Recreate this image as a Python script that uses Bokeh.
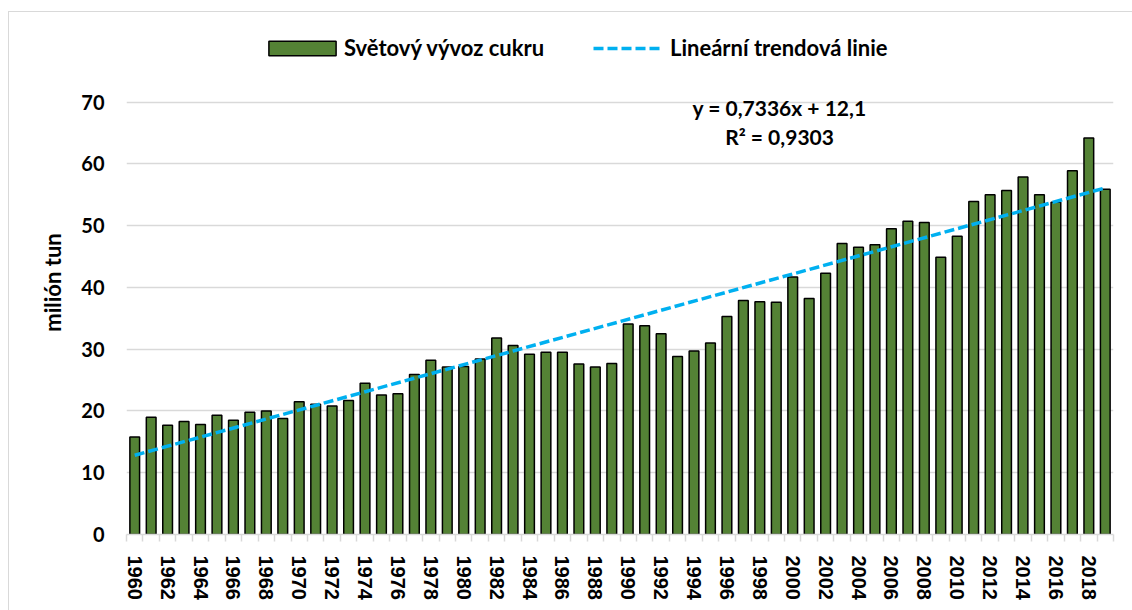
from bokeh.plotting import figure
from bokeh.models import Range1d, FixedTicker, Legend, LegendItem, Label, InlineStyleSheet
from bokeh.embed import file_html
from bokeh.resources import INLINE

# ---- data ----
years = list(range(1960, 2020))
export = [15.8, 19.0, 17.7, 18.3, 17.8, 19.3, 18.5, 19.8, 20.0, 18.8,
          21.5, 21.1, 20.8, 21.7, 24.5, 22.6, 22.8, 25.9, 28.2, 27.1,
          27.2, 28.4, 31.8, 30.6, 29.2, 29.5, 29.5, 27.6, 27.1, 27.7,
          34.1, 33.8, 32.5, 28.8, 29.7, 31.0, 35.3, 37.9, 37.7, 37.6,
          41.7, 38.2, 42.3, 47.1, 46.5, 46.9, 49.5, 50.7, 50.5, 44.9,
          48.3, 53.9, 55.0, 55.7, 57.9, 55.0, 53.8, 58.9, 64.2, 55.9]
trend_slope = 0.7336
trend_intercept = 12.1
y_ticks = [0, 10, 20, 30, 40, 50, 60, 70]
x_label_years = list(range(1960, 2020, 2))
series_label = "Světový vývoz cukru"
trend_label = "Lineární trendová linie"
eq_text = "y = 0,7336x + 12,1"
r2_text = "R² = 0,9303"
y_title = "milión tun"

# trend line endpoints (x index 1..60 as in Excel)
trend_x = [years[0], years[-1]]
trend_y = [trend_intercept + trend_slope * 1, trend_intercept + trend_slope * len(years)]

FONT = "Lato"

p = figure(width=1132, height=610, output_backend="svg", toolbar_location=None,
           x_range=Range1d(1959.5, 2019.5), y_range=Range1d(0, 81.6),
           min_border_left=126, min_border_right=19, min_border_top=30, min_border_bottom=76,
           background_fill_color="white", border_fill_color="white", outline_line_color=None)

bars = p.vbar(x=years, top=export, width=0.59, fill_color="#548235",
              line_color="black", line_width=1.5)
trend = p.line(x=trend_x, y=trend_y, line_color="#00B0F0", line_width=3.5, line_dash="10 4")

# grid
p.xgrid.visible = False
p.ygrid.ticker = FixedTicker(ticks=y_ticks)
p.ygrid.grid_line_color = "#D9D9D9"
p.ygrid.grid_line_width = 1.5

# y axis
p.yaxis.ticker = FixedTicker(ticks=y_ticks)
p.yaxis.axis_line_color = None
p.yaxis.major_tick_line_color = None
p.yaxis.minor_tick_line_color = None
p.yaxis.major_tick_in = 0
p.yaxis.major_tick_out = 0
p.yaxis.major_label_standoff = 22
p.yaxis.major_label_text_font = FONT
p.yaxis.major_label_text_font_style = "bold"
p.yaxis.major_label_text_font_size = "20px"
p.yaxis.major_label_text_color = "black"
p.yaxis.axis_label = y_title
p.yaxis.axis_label_text_font = FONT
p.yaxis.axis_label_text_font_style = "bold"
p.yaxis.axis_label_text_font_size = "22px"
p.yaxis.axis_label_text_color = "black"
p.yaxis.axis_label_standoff = 12

# x axis
boundaries = [y - 0.5 for y in years] + [years[-1] + 0.5]
p.xaxis.ticker = FixedTicker(ticks=x_label_years, minor_ticks=boundaries)
p.xaxis.axis_line_color = "#D9D9D9"
p.xaxis.axis_line_width = 1.5
p.xaxis.major_tick_line_color = None
p.xaxis.major_tick_in = 0
p.xaxis.major_tick_out = 0
p.xaxis.minor_tick_line_color = "#D9D9D9"
p.xaxis.minor_tick_line_width = 1.5
p.xaxis.minor_tick_in = 0
p.xaxis.minor_tick_out = 7
p.xaxis.major_label_orientation = "vertical"
p.xaxis.major_label_standoff = 14
p.xaxis.major_label_text_font = "Liberation Sans"
p.xaxis.major_label_text_font_style = "bold"
p.xaxis.major_label_text_font_size = "20px"
p.xaxis.major_label_text_color = "black"

# legends (two, so each key can have its own size)
common = dict(orientation="horizontal", label_height=22, padding=0, margin=0,
              border_line_color=None, background_fill_alpha=0,
              label_text_font=FONT, label_text_font_style="bold",
              label_text_font_size="22px", label_text_color="black")
legend_bars = Legend(items=[LegendItem(label=series_label, renderers=[bars])],
                     location=(134, 473), glyph_width=84, glyph_height=18,
                     label_standoff=0, **common)
legend_trend = Legend(items=[LegendItem(label=trend_label, renderers=[trend])],
                      location=(467, 473), glyph_width=70, glyph_height=14,
                      label_standoff=7, **common)
p.add_layout(legend_bars)
p.add_layout(legend_trend)

# trend equation
p.add_layout(Label(x=1999.2, y=69.09, text=eq_text, text_align="center",
                   text_baseline="alphabetic", text_font=FONT, text_font_style="bold",
                   text_font_size="21px", text_color="black"))
p.add_layout(Label(x=1999.2, y=64.49, text=r2_text, text_align="center",
                   text_baseline="alphabetic", text_font=FONT, text_font_style="bold",
                   text_font_size="21px", text_color="black"))

# chart area border: thin grey top and left edges of the chart area
p.stylesheets = [InlineStyleSheet(css="""
:host { position: relative; }
:host::after {
  content: "";
  position: absolute;
  left: 8px; top: 11px; right: 0; bottom: 0;
  border-left: 1.5px solid #D9D9D9;
  border-top: 1.5px solid #D9D9D9;
  pointer-events: none;
}
""")]

open("out.html", "w").write(file_html(p, INLINE))
